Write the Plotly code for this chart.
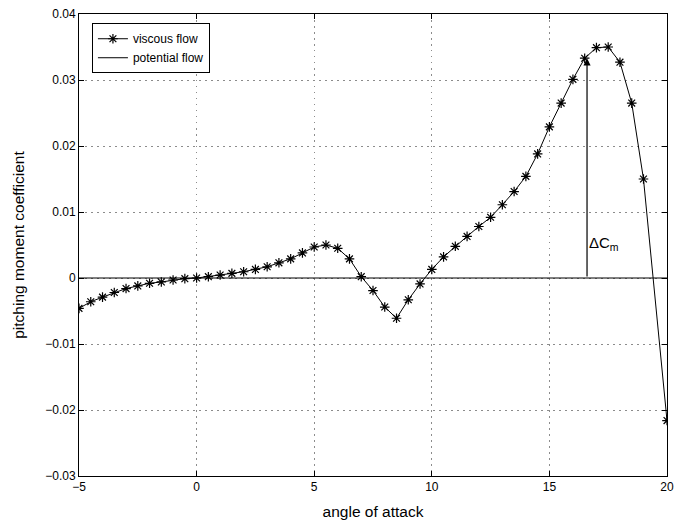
import plotly.graph_objects as go

# angle of attack (deg), sampled every half degree
alpha = [-5.0, -4.5, -4.0, -3.5, -3.0, -2.5, -2.0, -1.5, -1.0, -0.5,
         0.0, 0.5, 1.0, 1.5, 2.0, 2.5, 3.0, 3.5, 4.0, 4.5,
         5.0, 5.5, 6.0, 6.5, 7.0, 7.5, 8.0, 8.5, 9.0, 9.5,
         10.0, 10.5, 11.0, 11.5, 12.0, 12.5, 13.0, 13.5, 14.0, 14.5,
         15.0, 15.5, 16.0, 16.5, 17.0, 17.5, 18.0, 18.5, 19.0, 20.0]

# pitching moment coefficient, viscous solution
cm_viscous = [-0.0046, -0.0036, -0.0029, -0.0022, -0.0016, -0.0012, -0.0008, -0.0006, -0.0003, -0.0001,
              0.0000, 0.0002, 0.00045, 0.0007, 0.00095, 0.0013, 0.0017, 0.0023, 0.0029, 0.0038,
              0.0047, 0.0050, 0.0045, 0.0029, 0.0002, -0.0019, -0.0044, -0.0061, -0.0033, -0.0009,
              0.0013, 0.0032, 0.0048, 0.0063, 0.0078, 0.0092, 0.0111, 0.0131, 0.0154, 0.0188,
              0.0229, 0.0265, 0.0301, 0.0333, 0.0349, 0.0350, 0.0327, 0.0265, 0.0150, -0.0216]

# potential flow reference (zero moment)
alpha_pot = [-5.0, 20.0]
cm_potential = [0.0, 0.0]

# Delta Cm marker
dcm_alpha = 16.6
dcm_top = 0.0333

x_ticks = [-5, 0, 5, 10, 15, 20]
y_ticks = [-0.03, -0.02, -0.01, 0, 0.01, 0.02, 0.03, 0.04]
y_tick_text = ["\u22120.03", "\u22120.02", "\u22120.01", "0", "0.01", "0.02", "0.03", "0.04"]

FONT = "Liberation Sans, Arial, Helvetica, sans-serif"

fig = go.Figure()
fig.add_trace(go.Scatter(
    x=alpha, y=cm_viscous, mode="lines+markers", name="viscous flow",
    line=dict(color="black", width=1),
    marker=dict(symbol="asterisk-open", size=8, color="black",
                line=dict(color="black", width=1.2)),
))
fig.add_trace(go.Scatter(
    x=alpha_pot, y=cm_potential, mode="lines", name="potential flow",
    line=dict(color="black", width=1),
))

fig.add_annotation(
    x=dcm_alpha, y=dcm_top, ax=dcm_alpha, ay=0,
    xref="x", yref="y", axref="x", ayref="y",
    text="", showarrow=True, arrowhead=2, arrowsize=1.2, arrowwidth=1.2,
    arrowcolor="black",
)
fig.add_annotation(
    x=dcm_alpha, y=0.0052, xref="x", yref="y",
    text="\u0394C<sub>m</sub>", showarrow=False,
    xanchor="left", yanchor="middle", xshift=0,
    font=dict(family=FONT, size=15, color="black"),
)

axis_common = dict(
    showline=True, linecolor="black", linewidth=1, mirror="ticks",
    ticks="inside", ticklen=5, tickcolor="black", tickwidth=1,
    showgrid=True, gridcolor="#8c8c8c", gridwidth=1, griddash="1.5px,4.5px",
    zeroline=False, automargin=False,
    tickfont=dict(family=FONT, size=12, color="black"),
)

fig.update_xaxes(
    range=[-5, 20], tickvals=x_ticks,
    title=dict(text="angle of attack", font=dict(family=FONT, size=15.5, color="black"), standoff=12),
    **axis_common,
)
fig.update_yaxes(
    range=[-0.03, 0.04], tickvals=y_ticks, ticktext=y_tick_text,
    title=dict(text="pitching moment coefficient", font=dict(family=FONT, size=15.5, color="black"), standoff=16),
    **axis_common,
)

fig.update_layout(
    width=680, height=526,
    margin=dict(l=79, r=13, t=14, b=50),
    paper_bgcolor="white", plot_bgcolor="white",
    showlegend=True,
    legend=dict(
        x=0.022, y=0.98, xanchor="left", yanchor="top",
        bgcolor="white", bordercolor="black", borderwidth=1,
        font=dict(family=FONT, size=12, color="black"),
        tracegroupgap=0, itemwidth=30,
    ),
)

fig.write_html("out.html")
